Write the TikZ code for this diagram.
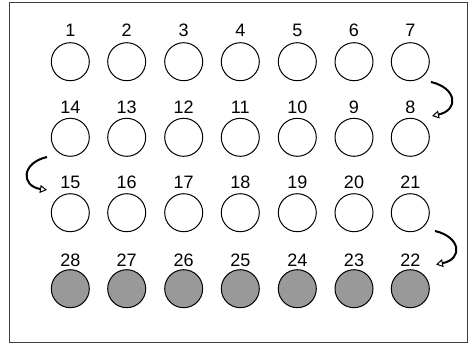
\documentclass[tikz,border=0pt]{standalone}
\usepackage{fontspec}
\setmainfont{Liberation Sans}
\usetikzlibrary{arrows.meta}
\definecolor{wellgray}{HTML}{999999}
\begin{document}
\begin{tikzpicture}[x=1pt,y=-1pt,
  well/.style={circle,draw=black,line width=1pt,minimum size=38pt,inner sep=0pt},
  filled/.style={well,fill=wellgray},
  lbl/.style={font=\fontsize{18}{18}\selectfont,inner sep=0pt,anchor=base},
  turn/.style={line width=2pt,-{Triangle[open,length=7pt,width=8pt,line width=1pt]}}]
\useasboundingbox (0,0) rectangle (469,343);
\node[draw=black!75,line width=0.9pt,minimum width=458pt,minimum height=340pt,inner sep=0pt,anchor=north west] (frame) at (9,1.5) {};
\foreach \c [count=\i] in {70.3,126.7,183.7,240.3,297.3,354,410.3}{
  \pgfmathtruncatemacro{\na}{\i}
  \pgfmathtruncatemacro{\nb}{15-\i}
  \pgfmathtruncatemacro{\nc}{14+\i}
  \pgfmathtruncatemacro{\nd}{29-\i}
  \node[well] (c\na) at (\c,61.7) {};
  \node[lbl] (l\na) at (\c,36) {\na};
  \node[well] (c\nb) at (\c,137.3) {};
  \node[lbl] (l\nb) at (\c,113) {\nb};
  \node[well] (c\nc) at (\c,212.7) {};
  \node[lbl] (l\nc) at (\c,188) {\nc};
  \node[filled] (c\nd) at (\c,288.7) {};
  \node[lbl] (l\nd) at (\c,266) {\nd};
}
\coordinate (a1s) at (431,82);
\coordinate (a1e) at (432,116);
\coordinate (a2s) at (47,157);
\coordinate (a2e) at (47,190);
\coordinate (a3s) at (435,231);
\coordinate (a3e) at (436,264.5);
\draw[turn] (a1s) .. controls (457,88) and (459,110) .. (a1e);
\draw[turn] (a2s) .. controls (21,163) and (21,186) .. (a2e);
\draw[turn] (a3s) .. controls (461,237) and (463,259) .. (a3e);
\end{tikzpicture}
\end{document}
